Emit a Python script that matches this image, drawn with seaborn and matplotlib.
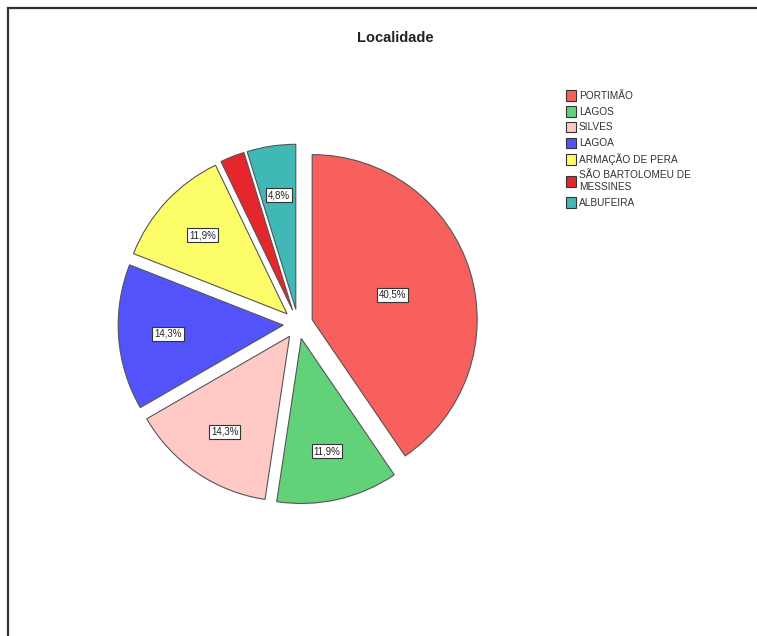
import matplotlib
matplotlib.use("Agg")
import matplotlib.pyplot as plt
import seaborn as sns
import numpy as np
from matplotlib.patches import Rectangle, Patch

localidades = ['PORTIMÃO', 'LAGOS', 'SILVES', 'LAGOA', 'ARMAÇÃO DE PERA',
               'SÃO BARTOLOMEU DE\nMESSINES', 'ALBUFEIRA']
contagens = [17, 5, 6, 6, 5, 1, 2]
cores = ['#f7605d', '#62d27a', '#ffc9c6', '#5353fb', '#fdfd6a', '#e5262d', '#3fb8b6']

sns.set_theme(style="white")
plt.rcParams['font.family'] = ['Liberation Sans', 'DejaVu Sans']

fig = plt.figure(figsize=(7.57, 6.36), dpi=100)
fig.patch.set_facecolor('white')

# moldura do SPSS (so se ve o canto superior esquerdo)
fig.add_artist(Rectangle((8 / 757, -0.1), 1.2, 1 - 8 / 636 + 0.1,
                         transform=fig.transFigure, fill=False,
                         edgecolor='#333333', linewidth=1.6))

ax = fig.add_axes([100 / 757, 114 / 636, 396 / 757, 396 / 636])
total = sum(contagens)
explode = [0.09] * len(contagens)
wedges, _ = ax.pie(contagens, colors=cores, startangle=90, counterclock=False,
                   explode=explode, radius=1,
                   wedgeprops=dict(edgecolor='#555555', linewidth=0.8))

for w, n in zip(wedges, contagens):
    pct = n / total * 100
    if pct < 3:
        continue
    ang = np.deg2rad((w.theta1 + w.theta2) / 2)
    d = 0.51 if pct > 30 else 0.70
    cx, cy = w.center
    ax.text(cx + d * np.cos(ang), cy + d * np.sin(ang),
            f'{pct:.1f}%'.replace('.', ','), ha='center', va='center',
            fontsize=7, color='#222222',
            bbox=dict(boxstyle='square,pad=0.2', facecolor='white',
                      edgecolor='#333333', linewidth=0.8))

ax.set_xlim(-1.2, 1.2)
ax.set_ylim(-1.2, 1.2)
ax.set_aspect('equal')
ax.axis('off')

fig.text(395 / 757, 1 - 38 / 636, 'Localidade', ha='center', va='center',
         fontsize=10.5, fontweight='bold', color='#222222')

handles = [Patch(facecolor=c, edgecolor='#333333', linewidth=0.8) for c in cores]
fig.legend(handles, localidades, loc='upper left',
           bbox_to_anchor=(566 / 757, 1 - 90 / 636), frameon=False,
           fontsize=7.3, handlelength=0.95, handleheight=1.25, handletextpad=0.3,
           labelspacing=0.5, borderpad=0, borderaxespad=0,
           labelcolor='#333333')

fig.savefig('out.png', dpi=100)
